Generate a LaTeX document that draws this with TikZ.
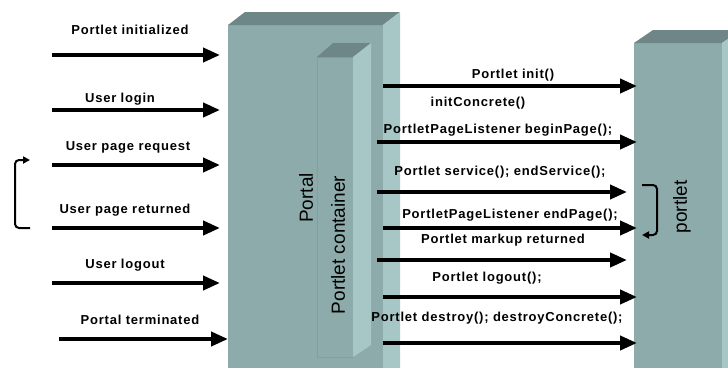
\documentclass[tikz,border=0pt]{standalone}
\usepackage{fontspec}
\setmainfont{Liberation Sans}
\usetikzlibrary{arrows.meta}
\definecolor{boxfront}{HTML}{8EABAB}
\definecolor{boxtop}{HTML}{6E8686}
\definecolor{boxside}{HTML}{A7C6C6}
\definecolor{boxedge}{HTML}{82A0A0}
\tikzset{
  face/.style={fill=boxfront,inner sep=0pt,outer sep=0pt},
  msg/.style={line width=4pt,-{Triangle[length=17pt,width=14pt]}},
  loopback/.style={line width=2pt,rounded corners=4pt,-{Triangle[length=7pt,width=7pt]}},
  lbl/.style={inner sep=0pt,font=\bfseries\fontsize{13}{15}\selectfont\addfontfeatures{LetterSpace=6}},
  vlbl/.style={inner sep=0pt,rotate=90,font=\fontsize{19}{22}\selectfont}
}
\begin{document}
\begin{tikzpicture}[x=1pt,y=-1pt]
\useasboundingbox (0,0) rectangle (728,367);
\clip (0,0) rectangle (728,367);

%blocks
\node[face,minimum width=155pt,minimum height=360pt,anchor=north west] (portal) at (228,25) {};
\fill[boxtop] (portal.north west) -- ++(17,-13) -- ++(155,0) -- (portal.north east) -- cycle;
\fill[boxside] (portal.north east) -- ++(17,-13) -- ++(0,400) -- (portal.south east) -- cycle;

\node[face,draw=boxedge,line width=0.6pt,minimum width=36pt,minimum height=300pt,anchor=north west] (container) at (317,57) {};
\fill[boxtop] (container.north west) -- ++(16,-14) -- ++(38,0) -- (container.north east) -- cycle;
\fill[boxside] (container.north east) -- ++(18,-14) -- ++(0,302) -- (container.south east) -- cycle;

\node[face,minimum width=88pt,minimum height=340pt,anchor=north west] (portlet) at (634,43) {};
\fill[boxtop] (portlet.north west) -- ++(19,-13) -- ++(88,0) -- (portlet.north east) -- cycle;
\fill[boxside] (portlet.north east) -- ++(19,-13) -- ++(0,400) -- (portlet.south east) -- cycle;

%block names
\node[vlbl] (portalname) at (306,198) {Portal};
\node[vlbl] (containername) at (338,245) {Portlet container};
\node[vlbl] (portletname) at (682,207) {portlet};

%user side
\node[lbl] (initialized) at (130,30) {Portlet initialized};
\node[lbl] (login) at (120,99) {User login};
\node[lbl] (request) at (128,147) {User page request};
\node[lbl] (returned) at (125,210) {User page returned};
\node[lbl] (logout) at (125,265) {User logout};
\node[lbl] (terminated) at (140,320) {Portal terminated};

\coordinate (initialized-s) at (52,55);  \coordinate (initialized-e) at (220,55);
\coordinate (login-s) at (52,110);       \coordinate (login-e) at (220,110);
\coordinate (request-s) at (52,165);     \coordinate (request-e) at (220,165);
\coordinate (returned-s) at (52,228);    \coordinate (returned-e) at (220,228);
\coordinate (logout-s) at (52,283);      \coordinate (logout-e) at (220,283);
\coordinate (terminated-s) at (59,339);  \coordinate (terminated-e) at (228,339);

\draw[msg] (initialized-s) -- (initialized-e);
\draw[msg] (login-s) -- (login-e);
\draw[msg] (request-s) -- (request-e);
\draw[msg] (returned-s) -- (returned-e);
\draw[msg] (logout-s) -- (logout-e);
\draw[msg] (terminated-s) -- (terminated-e);

%page cycle, user side
\coordinate (userloop-s) at (30,228);
\coordinate (userloop-e) at (30,160);
\draw[loopback] (userloop-s) -- (15,228) -- (15,160) -- (userloop-e);

%container side
\node[lbl] (init) at (513,75) {Portlet init()};
\node[lbl] (concrete) at (478,103) {initConcrete()};
\node[lbl] (beginpage) at (498,130) {PortletPageListener beginPage();};
\node[lbl] (service) at (500,172) {Portlet service(); endService();};
\node[lbl] (endpage) at (510,215) {PortletPageListener endPage();};
\node[lbl] (markup) at (503,240) {Portlet markup returned};
\node[lbl] (plogout) at (487,278) {Portlet logout();};
\node[lbl] (destroy) at (497,318) {Portlet destroy(); destroyConcrete();};

\coordinate (init-s) at (383,86);      \coordinate (init-e) at (637,86);
\coordinate (beginpage-s) at (377,142); \coordinate (beginpage-e) at (637,142);
\coordinate (service-s) at (377,192);  \coordinate (service-e) at (627,192);
\coordinate (endpage-s) at (383,228);  \coordinate (endpage-e) at (637,228);
\coordinate (markup-s) at (377,260);   \coordinate (markup-e) at (627,260);
\coordinate (plogout-s) at (383,297);  \coordinate (plogout-e) at (637,297);
\coordinate (destroy-s) at (383,343);  \coordinate (destroy-e) at (637,343);

\draw[msg] (init-s) -- (init-e);
\draw[msg] (beginpage-s) -- (beginpage-e);
\draw[msg] (service-s) -- (service-e);
\draw[msg] (endpage-s) -- (endpage-e);
\draw[msg] (markup-s) -- (markup-e);
\draw[msg] (plogout-s) -- (plogout-e);
\draw[msg] (destroy-s) -- (destroy-e);

%page cycle, portlet side
\coordinate (portletloop-s) at (642,185);
\coordinate (portletloop-e) at (642,235);
\draw[loopback] (portletloop-s) -- (657,185) -- (657,235) -- (portletloop-e);
\end{tikzpicture}
\end{document}
